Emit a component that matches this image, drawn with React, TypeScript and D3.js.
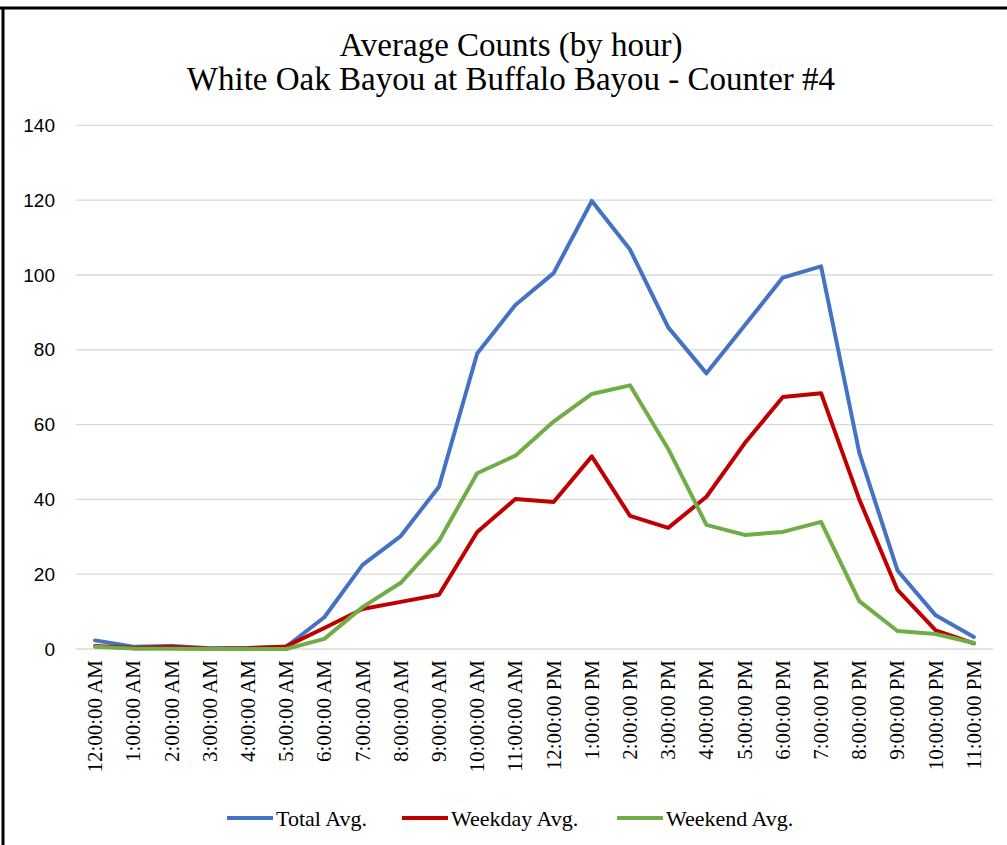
import React from "react";
import * as d3 from "d3";

const hours = [
  "12:00:00 AM", "1:00:00 AM", "2:00:00 AM", "3:00:00 AM", "4:00:00 AM", "5:00:00 AM",
  "6:00:00 AM", "7:00:00 AM", "8:00:00 AM", "9:00:00 AM", "10:00:00 AM", "11:00:00 AM",
  "12:00:00 PM", "1:00:00 PM", "2:00:00 PM", "3:00:00 PM", "4:00:00 PM", "5:00:00 PM",
  "6:00:00 PM", "7:00:00 PM", "8:00:00 PM", "9:00:00 PM", "10:00:00 PM", "11:00:00 PM",
];

const totalAvg = [2.3, 0.6, 0.8, 0.2, 0.3, 0.6, 8.5, 22.5, 30.2, 43.4, 79, 92, 100.5, 119.8, 106.8, 86, 73.7, 86.5, 99.3, 102.3, 52.5, 21, 9, 3.2];
const weekdayAvg = [0.8, 0.3, 0.6, 0.1, 0.2, 0.7, 5.6, 10.7, 12.6, 14.5, 31.3, 40.1, 39.3, 51.5, 35.6, 32.4, 40.7, 55, 67.4, 68.4, 40, 15.8, 5, 1.5];
const weekendAvg = [0.6, 0.1, 0.1, 0, 0, 0, 2.7, 11.2, 17.7, 28.9, 47, 51.7, 60.8, 68.2, 70.5, 53.5, 33.2, 30.5, 31.3, 34, 12.8, 4.8, 4, 1.6];

const yTicks = [0, 20, 40, 60, 80, 100, 120, 140];

const seriesNames = ["Total Avg.", "Weekday Avg.", "Weekend Avg."];
const seriesColors = ["#4472C4", "#C00000", "#70AD47"];
const seriesData = [totalAvg, weekdayAvg, weekendAvg];

const W = 1007;
const H = 845;
const plot = { left: 76, right: 993, top: 125.4, bottom: 649 };

export default function App() {
  const x = d3.scaleBand<string>().domain(hours).range([plot.left, plot.right]);
  const y = d3.scaleLinear().domain([0, 140]).range([plot.bottom, plot.top]);
  const line = d3
    .line<number>()
    .x((_, i) => (x(hours[i]) as number) + x.bandwidth() / 2)
    .y((d) => y(d));

  const serif = "'Liberation Serif', 'Times New Roman', serif";
  const sans = "'Liberation Sans', Arial, sans-serif";

  const legendItems = [
    { lx: 227, tx: 276 },
    { lx: 402, tx: 451 },
    { lx: 617, tx: 666 },
  ];

  return (
    <div style={{ position: "absolute", left: 0, top: 0 }}>
      <svg width={W} height={H} style={{ display: "block", background: "#fff" }}>
        <rect x={0} y={0} width={W} height={H} fill="#fff" />
        {/* frame */}
        <line x1={0} x2={W} y1={8} y2={8} stroke="#000" strokeWidth={3} />
        <line x1={3} x2={3} y1={7} y2={H} stroke="#000" strokeWidth={3} />

        {/* title */}
        <text x={511} y={56} textAnchor="middle" fontFamily={serif} fontSize={33} fill="#000">
          Average Counts (by hour)
        </text>
        <text x={511} y={90} textAnchor="middle" fontFamily={serif} fontSize={33} fill="#000">
          White Oak Bayou at Buffalo Bayou - Counter #4
        </text>

        {/* gridlines and y labels */}
        {yTicks.map((t) => (
          <g key={t}>
            <line x1={plot.left} x2={plot.right} y1={y(t)} y2={y(t)} stroke="#d9d9d9" strokeWidth={1.3} />
            <text x={55} y={y(t)} dy="0.35em" textAnchor="end" fontFamily={sans} fontSize={19} fill="#000">
              {t}
            </text>
          </g>
        ))}

        {/* x labels */}
        {hours.map((h) => {
          const cx = (x(h) as number) + x.bandwidth() / 2 + 7;
          return (
            <text
              key={h}
              transform={`translate(${cx},660) rotate(-90)`}
              textAnchor="end"
              fontFamily={serif}
              fontSize={21}
              fill="#000"
            >
              {h}
            </text>
          );
        })}

        {/* series */}
        {seriesData.map((d, i) => (
          <path
            key={seriesNames[i]}
            d={line(d) || ""}
            fill="none"
            stroke={seriesColors[i]}
            strokeWidth={4}
            strokeLinejoin="round"
            strokeLinecap="round"
          />
        ))}

        {/* legend */}
        {legendItems.map((it, i) => (
          <g key={seriesNames[i]}>
            <line x1={it.lx} x2={it.lx + 46} y1={818} y2={818} stroke={seriesColors[i]} strokeWidth={4} />
            <text x={it.tx} y={826} fontFamily={serif} fontSize={22} fill="#000">
              {seriesNames[i]}
            </text>
          </g>
        ))}
      </svg>
    </div>
  );
}
